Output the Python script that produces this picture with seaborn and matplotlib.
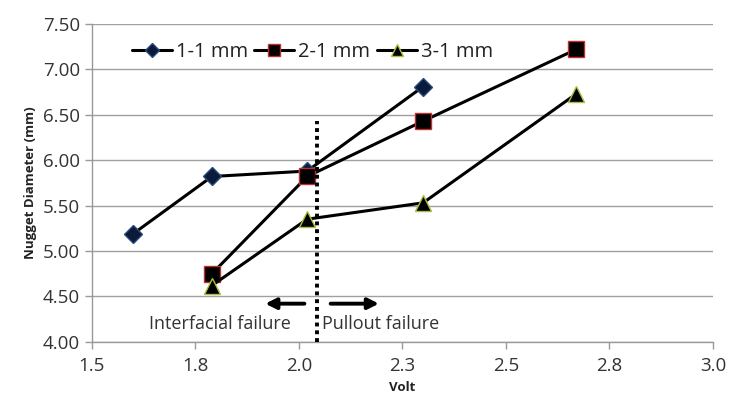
import matplotlib
matplotlib.use("Agg")
import matplotlib.pyplot as plt
import seaborn as sns
import pandas as pd

series_names = ["1-1 mm", "2-1 mm", "3-1 mm"]
x_11 = [1.60, 1.79, 2.02, 2.30]
y_11 = [5.19, 5.82, 5.88, 6.81]
x_21 = [1.79, 2.02, 2.30, 2.67]
y_21 = [4.75, 5.82, 6.43, 7.22]
x_31 = [1.79, 2.02, 2.30, 2.67]
y_31 = [4.62, 5.35, 5.53, 6.73]
x_ticks = [1.5, 1.75, 2.0, 2.25, 2.5, 2.75, 3.0]
x_tick_labels = ["1.5", "1.8", "2.0", "2.3", "2.5", "2.8", "3.0"]
y_ticks = [4.0, 4.5, 5.0, 5.5, 6.0, 6.5, 7.0, 7.5]
divider_x = 2.043
label_left = "Interfacial failure"
label_right = "Pullout failure"

sns.set_theme(style="white")
plt.rcParams['font.family'] = ['Open Sans', 'DejaVu Sans']

fig, ax = plt.subplots(figsize=(7.29, 4.05), dpi=100)
fig.subplots_adjust(left=0.126, right=0.978, top=0.941, bottom=0.156)

styles = [
    dict(marker="D", markersize=9, markerfacecolor="#0a1a3a", markeredgecolor="#2a4a7a"),
    dict(marker="s", markersize=11, markerfacecolor="black", markeredgecolor="#c03030"),
    dict(marker="^", markersize=11, markerfacecolor="black", markeredgecolor="#a8c040"),
]
for name, xs, ys, st in zip(series_names, [x_11, x_21, x_31], [y_11, y_21, y_31], styles):
    df = pd.DataFrame({"x": xs, "y": ys})
    sns.lineplot(data=df, x="x", y="y", ax=ax, color="black", linewidth=2.2,
                 label=name, markeredgewidth=1.0, zorder=3, **st)

ax.set_xlim(1.5, 3.0)
ax.set_ylim(4.0, 7.5)
ax.set_xticks(x_ticks)
ax.set_xticklabels(x_tick_labels)
ax.set_yticks(y_ticks)
ax.set_yticklabels([f"{v:.2f}" for v in y_ticks])
ax.tick_params(axis="both", labelsize=13.5, colors="#333333")
ax.tick_params(axis="x", bottom=True, length=5, width=1, color="#999999", pad=6)
ax.tick_params(axis="y", left=True, length=5, width=1, color="#999999")
ax.yaxis.grid(True, color="#a0a0a0", linewidth=1)
ax.xaxis.grid(False)
for s in ["top", "right"]:
    ax.spines[s].set_visible(False)
for s in ["left", "bottom"]:
    ax.spines[s].set_color("#999999")
    ax.spines[s].set_linewidth(1)

ax.set_xlabel("Volt", fontsize=9.5, fontweight="bold", color="#222222")
ax.set_ylabel("Nugget Diameter (mm)", fontsize=9.5, fontweight="bold", color="#222222")

ax.plot([divider_x, divider_x], [4.0, 6.43], linestyle=(0, (1, 1)), color="black",
        linewidth=2.8, zorder=4)
ax.annotate("", xy=(1.912, 4.42), xytext=(2.02, 4.42),
            arrowprops=dict(arrowstyle="-|>", color="black", lw=2.8, mutation_scale=16))
ax.annotate("", xy=(2.2, 4.42), xytext=(2.07, 4.42),
            arrowprops=dict(arrowstyle="-|>", color="black", lw=2.8, mutation_scale=16))
ax.text(1.81, 4.2, label_left, ha="center", va="center", fontsize=13, color="#333333")
ax.text(2.056, 4.2, label_right, ha="left", va="center", fontsize=13, color="#333333")

leg = ax.legend(loc="upper left", bbox_to_anchor=(0.035, 1.0), ncol=3, frameon=False,
                fontsize=14.5, handlelength=2.0, handletextpad=0.2, columnspacing=0.3,
                markerscale=0.8)
for t in leg.get_texts():
    t.set_color("#222222")

fig.savefig("out.png", dpi=100)
